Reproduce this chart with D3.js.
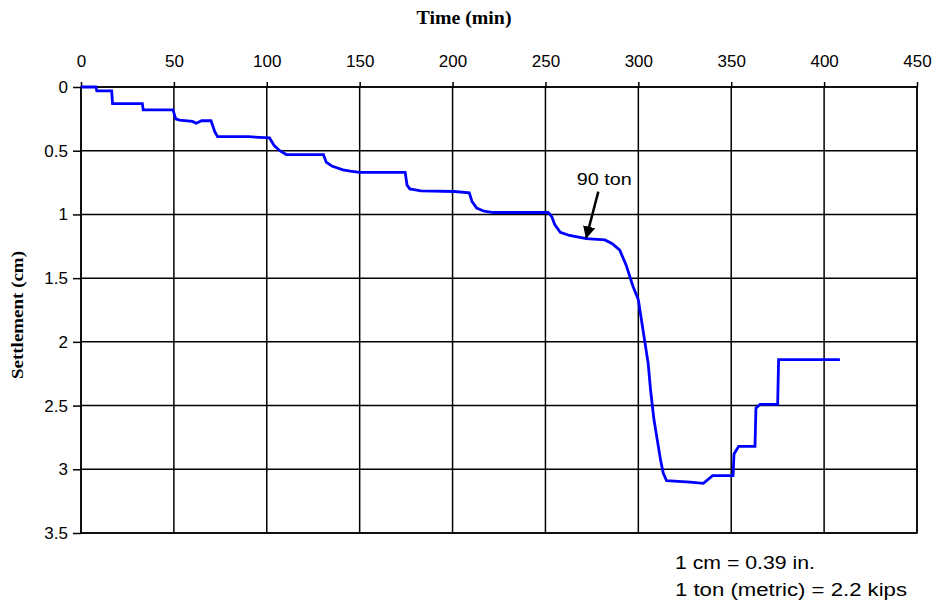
<!DOCTYPE html>
<html>
<head>
<meta charset="utf-8">
<script src="https://cdn.jsdelivr.net/npm/d3@7"></script>
<style>
  body { margin: 0; background: #fff; }
  svg { display: block; }
</style>
</head>
<body>
<svg id="chart"></svg>
<script>
// load test readings
const timeMin = [0, 8, 8.5, 16.5, 17, 33, 33.5, 49.5, 51, 53, 60, 62, 65, 70, 72, 73.5, 90, 101.5,
  104, 107, 110.5, 130.5, 132, 135, 141, 145, 150, 174.5, 175.5, 177, 183, 201, 209, 210.5, 213,
  217, 222, 251.5, 253.5, 255, 258, 263, 272, 282, 286, 290, 293.5, 297, 300, 301.7, 303.6, 305.3,
  306.6, 308.4, 310.2, 312, 313.4, 315.2, 328, 335, 340, 351, 351.5, 354, 362.8, 363.3, 365.5, 375,
  375.5, 408.5];
const settlementCm = [0, 0, 0.03, 0.03, 0.13, 0.13, 0.18, 0.18, 0.25, 0.26, 0.27, 0.285, 0.265, 0.265,
  0.35, 0.39, 0.39, 0.40, 0.46, 0.50, 0.53, 0.53, 0.59, 0.62, 0.65, 0.66, 0.67, 0.67, 0.77, 0.80, 0.815,
  0.82, 0.83, 0.90, 0.95, 0.975, 0.985, 0.985, 1.02, 1.08, 1.14, 1.165, 1.19, 1.2, 1.23, 1.28, 1.40,
  1.56, 1.67, 1.83, 2.01, 2.17, 2.38, 2.61, 2.77, 2.93, 3.03, 3.09, 3.10, 3.11, 3.05, 3.05, 2.88, 2.82,
  2.82, 2.52, 2.49, 2.49, 2.14, 2.14];
const xTicks = [0, 50, 100, 150, 200, 250, 300, 350, 400, 450];
const yTicks = [0, 0.5, 1, 1.5, 2, 2.5, 3, 3.5];
const annotation = { label: "90 ton", time: 272, settlement: 1.19 };
const notes = ["1 cm = 0.39 in.", "1 ton (metric) = 2.2 kips"];
const noteWidths = [140, 232];

const svgWidth = 938, svgHeight = 608;
const margin = { top: 87, right: 21, bottom: 75, left: 81 };
const width = svgWidth - margin.left - margin.right;
const height = svgHeight - margin.top - margin.bottom;
const sans = "'Liberation Sans', Arial, sans-serif";

const svg = d3.select("#chart").attr("width", svgWidth).attr("height", svgHeight);

svg.append("defs").append("marker")
  .attr("id", "arrow")
  .attr("viewBox", "0 0 10 10")
  .attr("refX", 9).attr("refY", 5)
  .attr("markerWidth", 5).attr("markerHeight", 6)
  .attr("orient", "auto")
  .append("path")
  .attr("d", "M0,0L10,5L0,10z")
  .attr("fill", "#000");

const g = svg.append("g").attr("transform", `translate(${margin.left},${margin.top})`);

const x = d3.scaleLinear().domain([0, 450]).range([0, width]);
const y = d3.scaleLinear().domain([0, 3.5]).range([0, height]);

// gridlines
g.append("g")
  .selectAll("line")
  .data(xTicks)
  .join("line")
  .attr("x1", d => x(d)).attr("x2", d => x(d))
  .attr("y1", 0).attr("y2", height)
  .attr("stroke", "#000").attr("stroke-width", 1.5);

g.append("g")
  .selectAll("line")
  .data(yTicks)
  .join("line")
  .attr("x1", 0).attr("x2", width)
  .attr("y1", d => y(d)).attr("y2", d => y(d))
  .attr("stroke", "#000").attr("stroke-width", 1.5);

g.append("rect")
  .attr("width", width).attr("height", height)
  .attr("fill", "none").attr("stroke", "#000").attr("stroke-width", 1.5);

// axes
const xAxis = g.append("g")
  .call(d3.axisTop(x).tickValues(xTicks).tickFormat(d3.format("d")).tickSizeOuter(0).tickSize(5).tickPadding(15));
const yAxis = g.append("g")
  .call(d3.axisLeft(y).tickValues(yTicks).tickFormat(d => String(d)).tickSizeOuter(0).tickSize(8).tickPadding(5));

[xAxis, yAxis].forEach(ax => {
  ax.select(".domain").remove();
  ax.selectAll("line").attr("stroke", "#000").attr("stroke-width", 1.5);
  ax.selectAll("text")
    .attr("fill", "#000")
    .style("font-family", sans)
    .style("font-size", "17px");
});

// settlement curve
const points = timeMin.map((t, i) => ({ t: t, s: settlementCm[i] }));
const line = d3.line().x(d => x(d.t)).y(d => y(d.s));

g.append("path")
  .datum(points)
  .attr("fill", "none")
  .attr("stroke", "#0000ff")
  .attr("stroke-width", 2.8)
  .attr("stroke-linejoin", "miter")
  .attr("d", line);

// annotation
g.append("line")
  .attr("x1", x(annotation.time) + 12).attr("y1", y(annotation.settlement) - 47)
  .attr("x2", x(annotation.time)).attr("y2", y(annotation.settlement) - 1)
  .attr("stroke", "#000").attr("stroke-width", 2.5)
  .attr("marker-end", "url(#arrow)");

g.append("text")
  .attr("x", x(annotation.time) + 18).attr("y", y(annotation.settlement) - 54)
  .attr("text-anchor", "middle")
  .attr("textLength", 55).attr("lengthAdjust", "spacingAndGlyphs")
  .style("font-family", sans)
  .style("font-size", "17px")
  .text(annotation.label);

// axis titles
svg.append("text")
  .attr("x", 464).attr("y", 24)
  .attr("text-anchor", "middle")
  .attr("textLength", 95).attr("lengthAdjust", "spacingAndGlyphs")
  .style("font-family", "'Liberation Serif', 'Times New Roman', serif")
  .style("font-weight", "bold")
  .style("font-size", "19px")
  .text("Time (min)");

svg.append("text")
  .attr("transform", "translate(23,315) rotate(-90)")
  .attr("text-anchor", "middle")
  .attr("textLength", 128).attr("lengthAdjust", "spacingAndGlyphs")
  .style("font-family", "'Liberation Serif', 'Times New Roman', serif")
  .style("font-weight", "bold")
  .style("font-size", "17px")
  .text("Settlement (cm)");

// unit notes
svg.append("g")
  .selectAll("text")
  .data(notes)
  .join("text")
  .attr("x", 675)
  .attr("y", (d, i) => 569 + i * 27)
  .attr("textLength", (d, i) => noteWidths[i]).attr("lengthAdjust", "spacingAndGlyphs")
  .style("font-family", sans)
  .style("font-size", "18px")
  .text(d => d);
</script>
</body>
</html>
